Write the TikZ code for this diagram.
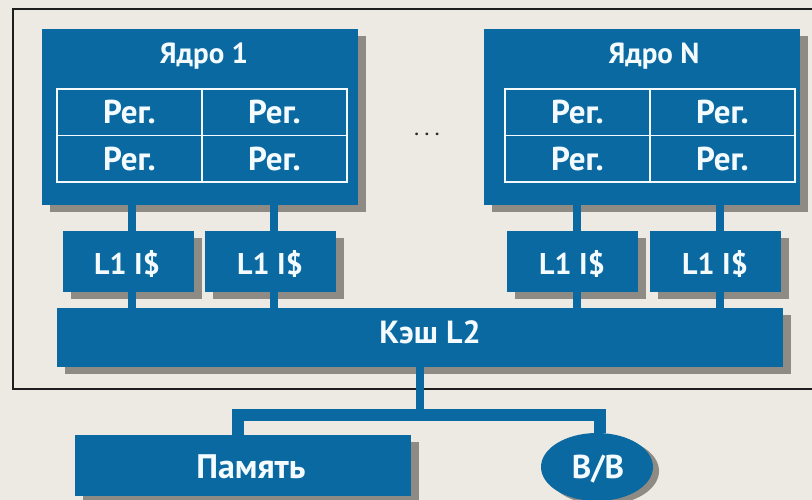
\documentclass[tikz,border=0pt]{standalone}
\usepackage{fontspec}
\setmainfont{PT Sans}
\usetikzlibrary{shadows,shapes.geometric}
\definecolor{bgc}{HTML}{ECEAE3}
\definecolor{blu}{HTML}{0B69A2}
\definecolor{shd}{HTML}{8E8A84}
\definecolor{txt}{HTML}{F4FBFF}
\definecolor{frm}{HTML}{1E1E1E}
\definecolor{dotc}{HTML}{2A2A2A}
\begin{document}
\begin{tikzpicture}[x=1pt,y=-1pt,
  box/.style={rectangle,fill=blu,draw=none,inner sep=0pt,
    drop shadow={shadow xshift=8pt,shadow yshift=-7pt,fill=shd,opacity=1}},
  oval/.style={ellipse,fill=blu,draw=none,inner sep=0pt,
    drop shadow={shadow xshift=6pt,shadow yshift=-4pt,fill=shd,opacity=1}},
  lbl/.style={text=txt,inner sep=0pt,anchor=base,
    font=\bfseries\fontsize{#1}{#1}\selectfont},
  cell/.style={rectangle,draw=txt,line width=1.8pt,minimum width=145pt,
    minimum height=46.5pt,inner sep=0pt,text=txt,
    font=\bfseries\fontsize{33}{33}\selectfont},
  conn/.style={draw=blu,line width=8pt},
  bus/.style={draw=blu,line width=12pt},
  frame/.style={draw=frm,line width=2pt},
]
\useasboundingbox (0,0) rectangle (812,500);
\clip (0,0) rectangle (812,500);
\fill[bgc] (0,0) rectangle (812,500);
\draw[frame] (13,9) rectangle (830,389);

% cores
\node[box,minimum width=316pt,minimum height=176pt] (core1) at (200,117) {};
\node[box,minimum width=316pt,minimum height=176pt] (coreN) at (642,117) {};
\node[lbl=29] (t1) at (204,64) {Ядро 1};
\node[lbl=29] (tN) at (654,64) {Ядро N};
\node[cell] (a11) at (129.5,112.25) {Рег.};
\node[cell] (a12) at (274.5,112.25) {Рег.};
\node[cell] (a21) at (129.5,158.75) {Рег.};
\node[cell] (a22) at (274.5,158.75) {Рег.};
\node[cell] (b11) at (577.5,112.25) {Рег.};
\node[cell] (b12) at (722.5,112.25) {Рег.};
\node[cell] (b21) at (577.5,158.75) {Рег.};
\node[cell] (b22) at (722.5,158.75) {Рег.};
\node[text=dotc,inner sep=0pt,anchor=base,font=\bfseries\fontsize{17}{17}\selectfont] (dots) at (427,136) {.\hspace{6pt}.\hspace{6pt}.};

% L1 caches
\node[box,minimum width=131pt,minimum height=61pt] (l1a) at (128,261.5) {};
\node[box,minimum width=131pt,minimum height=61pt] (l1b) at (270,261.5) {};
\node[box,minimum width=131pt,minimum height=61pt] (l1c) at (572.5,261.5) {};
\node[box,minimum width=131pt,minimum height=61pt] (l1d) at (715.5,261.5) {};
\node[lbl=30] (ta) at (127,274) {L1 I\$};
\node[lbl=30] (tb) at (270,274) {L1 I\$};
\node[lbl=30] (tc) at (572,274) {L1 I\$};
\node[lbl=30] (td) at (715,274) {L1 I\$};

% L2
\node[box,minimum width=726pt,minimum height=59pt] (l2) at (420,337.5) {};
\node[lbl=32] (tl2) at (430,343) {Кэш L2};

% memory and I/O
\node[box,minimum width=336pt,minimum height=61pt] (mem) at (243,465.5) {};
\node[lbl=34] (tmem) at (251,478) {Память};
\node[oval,minimum width=112pt,minimum height=68pt] (io) at (597,467) {};
\node[lbl=33] (tio) at (598,478) {В/В};

% connectors
\foreach \n/\c in {l1a/core1,l1b/core1,l1c/coreN,l1d/coreN}{
  \draw[conn] ([xshift=4pt]\n.north) -- ([xshift=4pt]\n.north |- \c.south);
  \draw[conn] ([xshift=4pt]\n.south) -- ([xshift=4pt]\n.south |- l2.north);
}
\coordinate (bj) at (420,415);
\draw[conn] (l2.south) -- (bj);
\draw[bus] ([xshift=-5pt]mem.north) |- (bj) -| ([xshift=3pt]io.north);
\end{tikzpicture}
\end{document}
